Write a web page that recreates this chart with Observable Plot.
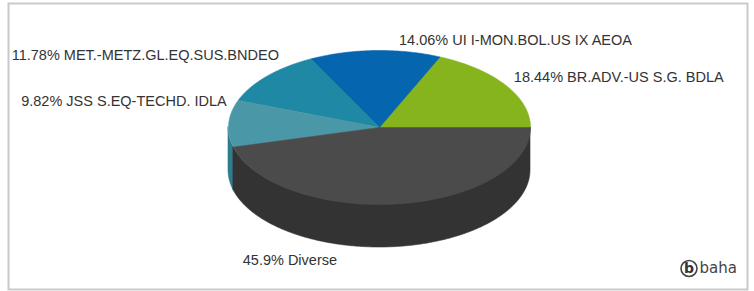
<!DOCTYPE html>
<html><head><meta charset="utf-8">
<script src="https://cdn.jsdelivr.net/npm/d3@7"></script>
<script src="https://cdn.jsdelivr.net/npm/@observablehq/plot@0.6"></script>
<style>body{margin:0;background:#fff} #chart{width:754px;height:291px}</style>
</head><body><div id="chart"></div>
<script>
// ---- data ----
const labels = ["BR.ADV.-US S.G. BDLA", "UI I-MON.BOL.US IX AEOA", "MET.-METZ.GL.EQ.SUS.BNDEO", "JSS S.EQ-TECHD. IDLA", "Diverse"];
const values = [18.44, 14.06, 11.78, 9.82, 45.9];
const percentText = ["18.44%", "14.06%", "11.78%", "9.82%", "45.9%"];

// ---- style / layout ----
const topColors = ["#86b41c", "#0565ae", "#1f88a5", "#4a97a7", "#4b4b4b"];
const sideColors = ["#5f8214", "#03477c", "#166277", "#2f7d8c", "#333333"];
const labelAnchor = ["start", "start", "end", "end", "middle"];
const labelShift = [[8, -8], [24, -10], [12, -21], [-2, -22], [-109, 13]];

const W = 754, H = 291;
const cx = 379, cy = 127, rx = 151, ry = 77, depth = 43;
const rad = d => d * Math.PI / 180;
const ex = a => cx + rx * Math.cos(rad(a));
const ey = a => cy - ry * Math.sin(rad(a));

const total = d3.sum(values);
let acc = 0;
const slices = values.map((v, i) => {
  const a0 = acc; acc += v / total * 360;
  return {i, a0, a1: acc, mid: (a0 + acc) / 2};
});

// top sector polygons
const topPts = [];
for (const s of slices) {
  topPts.push({id: s.i, x: cx, y: cy, c: topColors[s.i]});
  const n = Math.max(2, Math.ceil((s.a1 - s.a0) / 0.5));
  for (let k = 0; k <= n; k++) {
    const a = s.a0 + (s.a1 - s.a0) * k / n;
    topPts.push({id: s.i, x: ex(a), y: ey(a), c: topColors[s.i]});
  }
  topPts.push({id: s.i, x: cx, y: cy, c: topColors[s.i]});
}

// side walls (front half: 180..360)
const sidePts = [];
for (const s of slices) {
  const b0 = Math.max(s.a0, 180), b1 = Math.min(s.a1, 360);
  if (b1 <= b0) continue;
  const n = Math.max(2, Math.ceil((b1 - b0) / 0.5));
  for (let k = 0; k <= n; k++) {
    const a = b0 + (b1 - b0) * k / n;
    sidePts.push({id: s.i, x: ex(a), y1: ey(a), y2: ey(a) + depth, c: sideColors[s.i]});
  }
}

// labels
const labelData = slices.map(s => {
  const front = Math.sin(rad(s.mid)) < -0.5;
  return {
    x: ex(s.mid) + labelShift[s.i][0],
    y: ey(s.mid) + (front ? depth : 0) + labelShift[s.i][1],
    text: percentText[s.i] + " " + labels[s.i],
    anchor: labelAnchor[s.i]
  };
});

const logo = [{x: 688.5, y: 268}];

const textMarks = ["start", "end", "middle"].map(anc =>
  Plot.text(labelData.filter(d => d.anchor === anc), {
    x: "x", y: "y", text: "text", textAnchor: anc,
    fill: "#333", fontSize: 14.5, fontFamily: "Liberation Sans, Arial, sans-serif"
  }));

const chart = Plot.plot({
  width: W, height: H, margin: 0,
  x: {domain: [0, W], range: [0, W], axis: null},
  y: {domain: [0, H], range: [0, H], axis: null},
  color: {type: "identity"},
  style: {background: "#fff"},
  marks: [
    Plot.areaY(sidePts, {x: "x", y1: "y1", y2: "y2", z: "id", fill: "c", stroke: "c", strokeWidth: 0.6}),
    Plot.line(topPts, {x: "x", y: "y", z: "id", fill: "c", stroke: "c", strokeWidth: 0.6, curve: "linear"}),
    ...textMarks,
    Plot.dot(logo, {x: "x", y: "y", r: 8, stroke: "#444", strokeWidth: 1.6, fill: "none"}),
    Plot.text(logo, {x: "x", y: "y", text: () => "b", fill: "#333", fontSize: 14, fontWeight: "bold", fontFamily: "DejaVu Sans, sans-serif"}),
    Plot.text(logo, {x: "x", y: "y", text: () => "baha", dx: 10.5, textAnchor: "start", fill: "#444", fontSize: 15, fontFamily: "DejaVu Sans, sans-serif"}),
    Plot.frame({stroke: "#c9c9c9", strokeWidth: 2, insetLeft: 8, insetTop: 3, insetRight: 7, insetBottom: 2})
  ]
});
document.getElementById("chart").appendChild(chart);
</script>
</body></html>
